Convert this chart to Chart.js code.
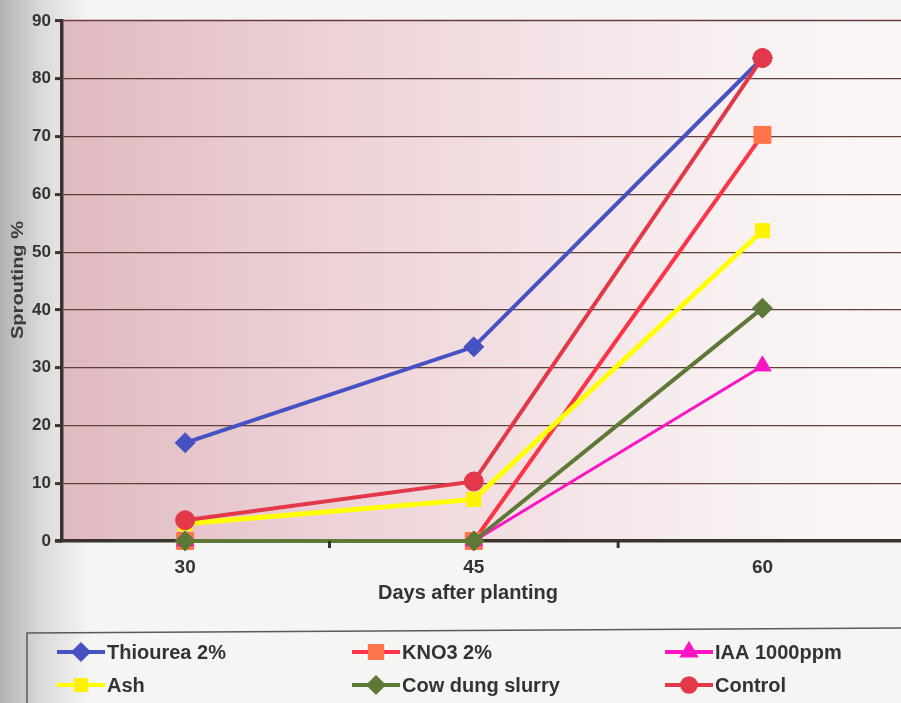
<!DOCTYPE html>
<html>
<head>
<meta charset="utf-8">
<script src="https://cdn.jsdelivr.net/npm/chart.js@4.4.1/dist/chart.umd.min.js"></script>
<style>
  html, body { margin: 0; padding: 0; background: #f6f6f4; overflow: hidden; }
  #wrap { width: 901px; height: 703px; }
</style>
</head>
<body>
<div id="wrap"><canvas id="c" width="901" height="703"></canvas></div>
<script>
// Sprouting % of setts at 30, 45 and 60 days after planting
const days = [30, 45, 60];
const seriesNames = ['Thiourea 2%', 'KNO3 2%', 'IAA 1000ppm', 'Ash', 'Cow dung slurry', 'Control'];
const thiourea = [17.0, 33.6, 83.6];
const kno3 = [0, 0, 70.3];
const iaa = [0, 0, 30.3];
const ash = [3.0, 7.2, 53.7];
const cowDung = [0, 0, 40.3];
const control = [3.6, 10.3, 83.6];
const yTickValues = [0, 10, 20, 30, 40, 50, 60, 70, 80, 90];
const xTitle = 'Days after planting';
const yTitle = 'Sprouting %';

const seriesValues = [thiourea, kno3, iaa, ash, cowDung, control];

// line / marker appearance per series
const looks = [
  { line: '#4652c4', point: '#4652c4', shape: 'rectRot',  r: 10, w: 4 },
  { line: '#ff3347', point: '#ff7448', shape: 'rect',     r: 12, w: 4 },
  { line: '#ff14c4', point: '#ff14c4', shape: 'triangle', r: 10, w: 3 },
  { line: '#ffff00', point: '#fff200', shape: 'rect',     r: 10, w: 5 },
  { line: '#5e7838', point: '#5e7838', shape: 'rectRot',  r: 10, w: 4 },
  { line: '#e2384a', point: '#e2384a', shape: 'circle',   r: 9.5, w: 4 }
];

const AXIS = '#3b332e';
const GRID = '#5e4038';
const TEXT = '#333333';

const datasets = seriesNames.map((name, i) => ({
  label: name,
  data: days.map((d, j) => ({ x: d, y: seriesValues[i][j] })),
  borderColor: looks[i].line,
  backgroundColor: looks[i].point,
  borderWidth: looks[i].w,
  pointStyle: looks[i].shape,
  pointRadius: looks[i].r,
  pointHoverRadius: looks[i].r,
  pointBorderColor: looks[i].point,
  pointBorderWidth: 1,
  tension: 0,
  order: seriesNames.length - 1 - i,
  clip: false
}));

// page paper + pink plot background
const backdrop = {
  id: 'backdrop',
  beforeDraw(chart) {
    const { ctx, chartArea: a, width, height } = chart;
    ctx.save();
    const pg = ctx.createLinearGradient(0, 0, 90, 0);
    pg.addColorStop(0, '#b2b2b0');
    pg.addColorStop(0.45, '#d9d9d7');
    pg.addColorStop(1, '#f5f5f3');
    ctx.fillStyle = pg;
    ctx.fillRect(0, 0, width, height);
    const g = ctx.createLinearGradient(a.left, 0, a.right, 0);
    g.addColorStop(0, '#dfbac0');
    g.addColorStop(0.3, '#ecd0d5');
    g.addColorStop(0.55, '#f3e1e4');
    g.addColorStop(0.8, '#f8f0f1');
    g.addColorStop(1, '#fbf7f7');
    ctx.fillStyle = g;
    ctx.fillRect(a.left, a.top, a.right - a.left, a.bottom - a.top);
    ctx.strokeStyle = '#d9a9c2';
    ctx.lineWidth = 1.5;
    ctx.beginPath();
    ctx.moveTo(a.left, a.top - 1);
    ctx.lineTo(a.right, a.top - 1);
    ctx.stroke();
    ctx.restore();
  }
};

function drawMarker(ctx, shape, x, y, r) {
  Chart.helpers.drawPoint(ctx, { pointStyle: shape, radius: r, borderWidth: 1 }, x, y);
}

// axis titles, x tick marks between categories, legend box
const decorations = {
  id: 'decorations',
  afterDraw(chart) {
    const { ctx, chartArea: a } = chart;
    const xs = chart.scales.x;
    ctx.save();

    // x axis line reaches a little left of the y axis
    ctx.strokeStyle = AXIS;
    ctx.lineWidth = 3.5;
    ctx.beginPath();
    ctx.moveTo(a.left - 7, a.bottom);
    ctx.lineTo(a.left, a.bottom);
    ctx.stroke();

    // small tick marks between the day categories
    ctx.lineWidth = 3;
    for (let i = 0; i < days.length - 1; i++) {
      const px = xs.getPixelForValue((days[i] + days[i + 1]) / 2);
      ctx.beginPath();
      ctx.moveTo(px, a.bottom);
      ctx.lineTo(px, a.bottom + 7);
      ctx.stroke();
    }

    // x axis title
    ctx.fillStyle = TEXT;
    ctx.font = 'bold 20px "Liberation Sans", Arial, sans-serif';
    ctx.textAlign = 'center';
    ctx.textBaseline = 'middle';
    ctx.fillText(xTitle, 468, 593);

    // y axis title, rotated and stretched along its length
    ctx.save();
    ctx.translate(19, 280);
    ctx.rotate(-Math.PI / 2);
    ctx.font = 'bold 16px "Liberation Sans", Arial, sans-serif';
    const tw = ctx.measureText(yTitle).width;
    ctx.scale(118 / tw, 1);
    ctx.fillStyle = '#3a3a3a';
    ctx.fillText(yTitle, 0, 0);
    ctx.restore();

    // legend frame
    ctx.strokeStyle = '#5a5a5a';
    ctx.lineWidth = 1.5;
    ctx.beginPath();
    ctx.moveTo(27, 712);
    ctx.lineTo(27, 633);
    ctx.lineTo(905, 628);
    ctx.stroke();

    // legend entries, three per row
    const colX = [57, 352, 665];
    const rowY = [652, 685];
    ctx.font = 'bold 20px "Liberation Sans", Arial, sans-serif';
    ctx.textAlign = 'left';
    seriesNames.forEach((name, i) => {
      const x0 = colX[i % 3];
      const y0 = rowY[Math.floor(i / 3)];
      const L = looks[i];
      ctx.strokeStyle = L.line;
      ctx.lineWidth = 4;
      ctx.beginPath();
      ctx.moveTo(x0, y0);
      ctx.lineTo(x0 + 48, y0);
      ctx.stroke();
      ctx.fillStyle = L.point;
      ctx.strokeStyle = L.point;
      drawMarker(ctx, L.shape, x0 + 24, y0, L.r * 0.72);
      ctx.fillStyle = TEXT;
      ctx.fillText(name, x0 + 50, y0 + 1);
    });
    ctx.restore();
  }
};

new Chart(document.getElementById('c'), {
  type: 'line',
  data: { datasets },
  plugins: [backdrop, decorations],
  options: {
    responsive: false,
    animation: false,
    events: [],
    layout: { autoPadding: false, padding: { top: 21, right: 0, bottom: 0, left: 0 } },
    plugins: { legend: { display: false }, tooltip: { enabled: false } },
    scales: {
      x: {
        type: 'linear',
        min: 23.6,
        max: 67.2,
        afterFit(s) { s.height = 162; s.paddingLeft = 0; s.paddingRight = 0; },
        afterBuildTicks(s) { s.ticks = days.map(v => ({ value: v })); },
        grid: { display: false, drawTicks: false },
        border: { display: true, color: AXIS, width: 3.5 },
        ticks: {
          padding: 15,
          color: TEXT,
          font: { family: '"Liberation Sans", Arial, sans-serif', size: 19, weight: 'bold' },
          callback: v => String(v)
        }
      },
      y: {
        min: 0,
        max: 90,
        afterFit(s) { s.width = 62; s.paddingTop = 0; s.paddingBottom = 0; },
        afterBuildTicks(s) { s.ticks = yTickValues.map(v => ({ value: v })); },
        grid: { color: GRID, lineWidth: 1.2, drawTicks: true, tickLength: 7, tickWidth: 3, tickColor: AXIS },
        border: { display: true, color: AXIS, width: 3.5 },
        ticks: {
          padding: 4,
          color: TEXT,
          font: { family: '"Liberation Sans Narrow", "Liberation Sans", Arial, sans-serif', size: 17, weight: 'bold' },
          callback: v => String(v)
        }
      }
    }
  }
});
</script>
</body>
</html>
